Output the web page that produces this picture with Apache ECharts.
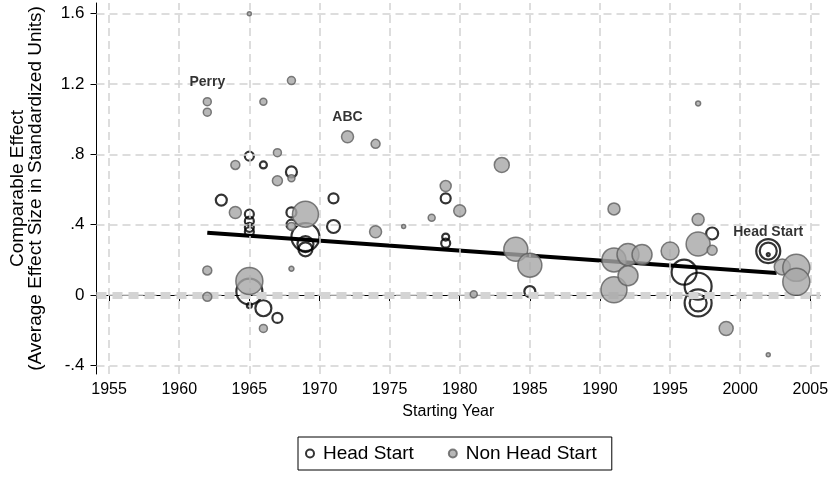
<!DOCTYPE html>
<html>
<head>
<meta charset="utf-8">
<script src="https://cdn.jsdelivr.net/npm/echarts@6/dist/echarts.min.js"></script>
<style>html,body{margin:0;padding:0;background:#fff}#c{width:831px;height:479px}</style>
</head>
<body>
<div id="c"></div>
<script>
// [year, effect, marker diameter]
const headStart = [
  [1965, 0.79, 9], [1966, 0.74, 7], [1968, 0.70, 11], [1963, 0.54, 11],
  [1965, 0.46, 9], [1965, 0.42, 9], [1965, 0.385, 9], [1965, 0.36, 9],
  [1971, 0.55, 10], [1968, 0.47, 10], [1968, 0.40, 10], [1971, 0.39, 13],
  [1969, 0.33, 28], [1969, 0.29, 16], [1969, 0.26, 14],
  [1965, 0.02, 26], [1966, -0.075, 16], [1967, -0.13, 10], [1965, -0.06, 5],
  [1979, 0.55, 10], [1979, 0.33, 7], [1979, 0.295, 9], [1985, 0.02, 11],
  [1996, 0.13, 25], [1997, 0.05, 27], [1997, -0.045, 27], [1997, -0.045, 17],
  [1998, 0.35, 12], [2002, 0.25, 24], [2002, 0.25, 17], [2002, 0.23, 3]
];
const nonHeadStart = [
  [1965, 1.60, 4], [1968, 1.22, 8], [1962, 1.10, 8], [1962, 1.04, 8], [1966, 1.10, 7],
  [1972, 0.90, 12], [1974, 0.86, 9], [1967, 0.81, 8], [1964, 0.74, 9], [1967, 0.65, 10],
  [1968, 0.665, 7], [1964, 0.47, 12], [1969, 0.46, 26], [1968, 0.39, 8], [1962, 0.14, 9],
  [1968, 0.15, 5], [1962, -0.01, 9], [1965, 0.08, 27], [1966, -0.19, 8],
  [1974, 0.36, 12], [1976, 0.39, 4], [1978, 0.44, 7], [1980, 0.48, 12], [1979, 0.62, 11],
  [1983, 0.74, 15], [1981, 0.005, 7], [1984, 0.26, 24], [1985, 0.17, 24],
  [1991, 0.49, 12], [1991, 0.20, 24], [1991, 0.03, 26], [1992, 0.23, 22], [1993, 0.23, 20],
  [1992, 0.11, 20], [1995, 0.25, 18], [1997, 0.29, 24], [1997, 0.43, 12], [1997, 1.09, 5],
  [1998, 0.255, 10], [1999, -0.19, 14], [2003, 0.16, 16], [2004, 0.155, 27], [2004, 0.075, 27],
  [2002, -0.34, 4]
];
const fitLine = [[1962, 0.355], [2002.6, 0.125]];
const annotations = [[1962, 1.21, 'Perry'], [1972, 1.01, 'ABC'], [2002, 0.358, 'Head Start']];
const xTicks = [1955, 1960, 1965, 1970, 1975, 1980, 1985, 1990, 1995, 2000, 2005];
const yTicks = [-0.4, 0, 0.4, 0.8, 1.2, 1.6];
const yTickLabels = ['-.4', '0', '.4', '.8', '1.2', '1.6'];

const FONT = 'Liberation Sans';
const gridStyle = { color: '#d2d2d2', width: 1.5, type: [8, 5] };

const chart = echarts.init(document.getElementById('c'), null, { renderer: 'canvas' });
chart.setOption({
  animation: false,
  backgroundColor: '#fff',
  textStyle: { fontFamily: FONT },
  grid: { left: 88, right: 9, top: 3, bottom: 105, containLabel: false },
  legend: {
    data: ['Head Start', 'Non Head Start'],
    left: 298, top: 437,
    padding: [7, 15, 7, 7],
    itemGap: 34, itemWidth: 8, itemHeight: 8,
    borderColor: '#000', borderWidth: 1, borderRadius: 0,
    textStyle: { fontSize: 19, color: '#000', fontFamily: FONT, padding: [0, 0, 0, 4] }
  },
  xAxis: {
    type: 'value', min: 1954.1, max: 2005.7,
    name: 'Starting Year', nameLocation: 'middle', nameGap: 30,
    nameTextStyle: { fontSize: 16, color: '#000', fontFamily: FONT, padding: [0, 20, 0, 0] },
    axisLine: { show: true, lineStyle: { color: '#000', width: 1 } },
    axisTick: { show: true, length: 6, customValues: xTicks, lineStyle: { color: '#000' } },
    axisLabel: { customValues: xTicks, fontSize: 16, color: '#000', margin: 8, fontFamily: FONT,
      formatter: v => String(Math.round(v)) },
    splitLine: { show: false }
  },
  yAxis: {
    type: 'value', min: -0.449, max: 1.661,
    name: 'Comparable Effect\n(Average Effect Size in Standardized Units)',
    nameLocation: 'middle', nameGap: 52, nameRotate: 90,
    nameTextStyle: { fontSize: 19, color: '#000', fontFamily: FONT, lineHeight: 18 },
    axisLine: { show: true, lineStyle: { color: '#000', width: 1 } },
    axisTick: { show: true, length: 6, customValues: yTicks, lineStyle: { color: '#000' } },
    axisLabel: {
      customValues: yTicks, fontSize: 17, color: '#000', margin: 12, fontFamily: FONT,
      formatter: v => { const i = yTicks.findIndex(t => Math.abs(t - v) < 1e-6); return i >= 0 ? yTickLabels[i] : ''; }
    },
    splitLine: { show: false }
  },
  series: [
    {
      name: 'grid', type: 'line', data: [], silent: true, z: 0,
      markLine: {
        silent: true, symbol: 'none', animation: false, label: { show: false },
        lineStyle: gridStyle,
        data: xTicks.map(t => ({ xAxis: t })).concat(yTicks.map(t => ({ yAxis: t })))
      }
    },
    {
      name: 'zero', type: 'line', data: [], silent: true, z: 1,
      markLine: {
        silent: true, symbol: 'none', animation: false, label: { show: false },
        lineStyle: { color: '#d4d4d4', width: 7, type: [10, 6] },
        data: [{ yAxis: 0 }]
      }
    },
    {
      name: 'fit', type: 'line', data: fitLine, showSymbol: false, symbol: 'none', z: 3,
      lineStyle: { color: '#000', width: 4 }, silent: true
    },
    {
      name: 'Head Start', type: 'scatter', z: 4,
      data: headStart,
      symbolSize: d => d[2],
      itemStyle: { color: 'rgba(255,255,255,0)', borderColor: '#000', borderWidth: 2.2 }
    },
    {
      name: 'Non Head Start', type: 'scatter', z: 5,
      data: nonHeadStart,
      symbolSize: d => d[2],
      itemStyle: { color: '#a6a6a6', borderColor: '#5e5e5e', borderWidth: 1.5 }
    },
    {
      name: 'labels', type: 'scatter', z: 6, silent: true,
      data: annotations, symbolSize: 0,
      label: {
        show: true, position: 'inside', formatter: p => p.data[2],
        fontSize: 14, fontWeight: 'bold', color: '#000', fontFamily: FONT
      }
    }
  ]
});
</script>
</body>
</html>
